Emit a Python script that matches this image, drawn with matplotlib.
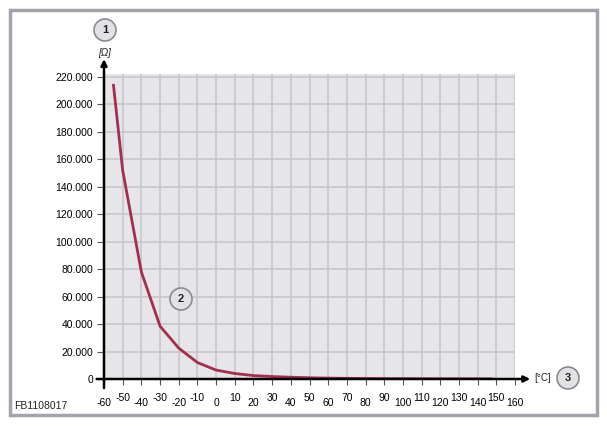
import matplotlib.pyplot as plt
from matplotlib.patches import Rectangle, Circle
from matplotlib.transforms import IdentityTransform
from matplotlib.ticker import FuncFormatter

plt.rcParams['font.family'] = ['Liberation Sans', 'DejaVu Sans']
plt.rcParams['axes.unicode_minus'] = False

# data: temperature [°C] vs resistance [Ohm]
temps = [-55, -50, -40, -30, -20, -10, 0, 10, 20, 30, 40, 50, 60, 70,
         80, 90, 100, 110, 120, 130, 140, 148]
resist = [215000, 152000, 78000, 38500, 22500, 12000, 6500, 4000, 2500,
          1800, 1300, 900, 650, 480, 360, 280, 220, 170, 140, 115, 95, 80]

x_major = list(range(-60, 161, 20))
x_minor = list(range(-50, 151, 20))
y_ticks = list(range(0, 220001, 20000))

W, H = 607, 426
fig = plt.figure(figsize=(W / 100, H / 100), dpi=100)
ax = fig.add_axes([104 / W, 47 / H, 411 / W, 304.7 / H])

ax.set_facecolor('#e6e5ea')
ax.plot(temps, resist, color='#a52e4e', lw=2.0, solid_capstyle='butt', zorder=3)

ax.set_xlim(-60, 160)
ax.set_ylim(0, 222000)

ax.set_xticks(x_major)
ax.set_xticks(x_minor, minor=True)
ax.set_yticks(y_ticks)
ax.yaxis.set_major_formatter(FuncFormatter(lambda v, p: f'{int(v):,}'.replace(',', '.')))
ax.xaxis.set_minor_formatter(FuncFormatter(lambda v, p: f'{int(v)}'))

ax.tick_params(axis='x', which='major', length=4, width=0.8, pad=10, labelsize=7.5, color='#555555')
ax.tick_params(axis='x', which='minor', length=4, width=0.8, pad=6, labelsize=7.5, color='#555555')
ax.tick_params(axis='y', length=5, width=0.8, pad=3, labelsize=7.5, color='#555555')

ax.grid(True, which='both', axis='x', color='#c6c6cb', lw=1.2, zorder=1)
ax.grid(True, which='major', axis='y', color='#c6c6cb', lw=1.2, zorder=1)
ax.set_axisbelow(True)

for s in ['top', 'right', 'left', 'bottom']:
    ax.spines[s].set_visible(False)

# axis arrows crossing at the origin
ax.annotate('', xy=(0, 1.05), xytext=(0, -0.03), xycoords='axes fraction',
            arrowprops=dict(arrowstyle='-|>', lw=1.8, color='black',
                            mutation_scale=9, shrinkA=0, shrinkB=0),
            annotation_clip=False)
ax.annotate('', xy=(1.037, 0), xytext=(-0.018, 0), xycoords='axes fraction',
            arrowprops=dict(arrowstyle='-|>', lw=1.8, color='black',
                            mutation_scale=9, shrinkA=0, shrinkB=0),
            annotation_clip=False)

# callout circles and unit labels (pixel coords, y from top)
def badge(x, y, txt):
    c = Circle((x, H - y), 11, transform=IdentityTransform(),
               facecolor='#e2e2e5', edgecolor='#8a8a90', lw=1.2)
    fig.patches.append(c)
    fig.text(x / W, 1 - y / H, txt, ha='center', va='center',
             fontsize=8, fontweight='bold', color='#222222')

badge(105, 30, '1')
badge(181, 299, '2')
badge(568, 378, '3')
fig.text(105 / W, 1 - 53 / H, '[Ω]', ha='center', va='center',
         fontsize=7, style='italic', color='#222222')
fig.text(543 / W, 1 - 378 / H, '[°C]', ha='center', va='center',
         fontsize=7, color='#222222')
fig.text(14 / W, 1 - 406 / H, 'FB1108017', ha='left', va='center',
         fontsize=7.5, color='#222222')

# outer frame
fig.patches.append(Rectangle((10 / W, 11 / H), 587 / W, 405 / H,
                             transform=fig.transFigure, fill=False,
                             edgecolor='#a3a3ad', lw=2.5))

fig.savefig('out.png', dpi=100)
